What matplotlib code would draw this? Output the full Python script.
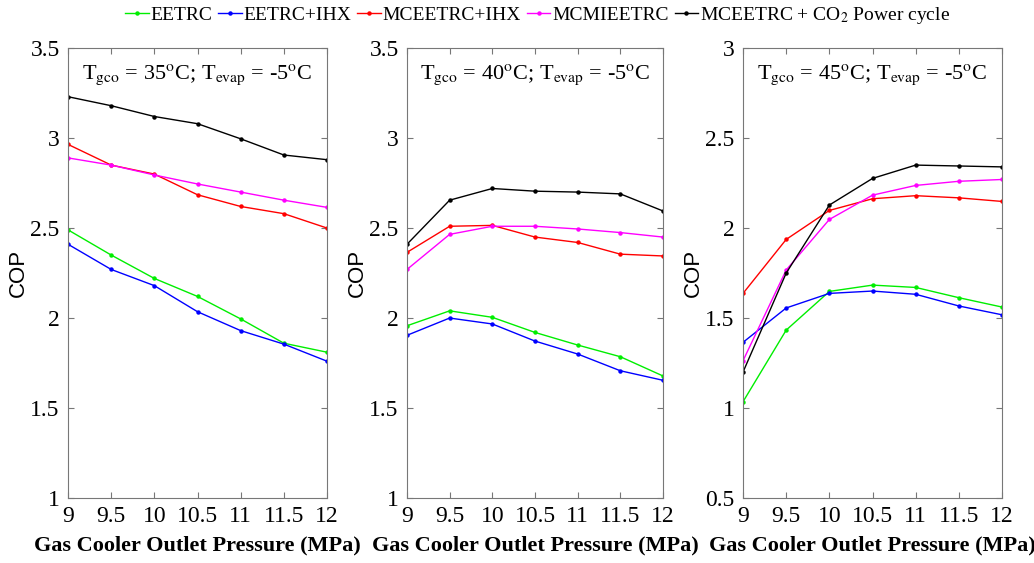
import numpy as np
import matplotlib
matplotlib.use("Agg")
import matplotlib.pyplot as plt

plt.rcParams['font.family'] = ['Liberation Serif', 'DejaVu Serif']
plt.rcParams['mathtext.fontset'] = 'stix'

pressure = [9, 9.5, 10, 10.5, 11, 11.5, 12]
series_names = ['EETRC', 'EETRC+IHX', 'MCEETRC+IHX', 'MCMIEETRC',
                r'MCEETRC + CO$_2$ Power cycle']
colors = ['#00ee00', '#0000ff', '#ff0000', '#ff00ff', '#000000']

# Tgco = 35 C
cop_35 = [
    [2.49, 2.35, 2.22, 2.12, 1.995, 1.86, 1.81],   # EETRC
    [2.41, 2.27, 2.18, 2.035, 1.93, 1.855, 1.76],  # EETRC+IHX
    [2.965, 2.85, 2.80, 2.685, 2.62, 2.58, 2.50],  # MCEETRC+IHX
    [2.89, 2.85, 2.795, 2.745, 2.70, 2.655, 2.615],  # MCMIEETRC
    [3.23, 3.18, 3.12, 3.08, 2.996, 2.906, 2.88],  # power cycle
]
# Tgco = 40 C
cop_40 = [
    [1.957, 2.04, 2.004, 1.92, 1.85, 1.785, 1.678],
    [1.904, 2.00, 1.967, 1.872, 1.80, 1.707, 1.654],
    [2.365, 2.51, 2.515, 2.45, 2.42, 2.355, 2.345],
    [2.27, 2.465, 2.51, 2.51, 2.495, 2.475, 2.45],
    [2.41, 2.655, 2.72, 2.705, 2.70, 2.69, 2.595],
]
# Tgco = 45 C
cop_45 = [
    [1.035, 1.433, 1.648, 1.683, 1.67, 1.613, 1.561],
    [1.365, 1.556, 1.637, 1.65, 1.632, 1.567, 1.518],
    [1.637, 1.937, 2.098, 2.163, 2.18, 2.168, 2.148],
    [1.263, 1.767, 2.048, 2.183, 2.237, 2.26, 2.27],
    [1.20, 1.75, 2.128, 2.276, 2.35, 2.345, 2.34],
]

panels = [
    (cop_35, '35', (1, 3.5), [1, 1.5, 2, 2.5, 3, 3.5], ['1', '1.5', '2', '2.5', '3', '3.5']),
    (cop_40, '40', (1, 3.5), [1, 1.5, 2, 2.5, 3, 3.5], ['1', '1.5', '2', '2.5', '3', '3.5']),
    (cop_45, '45', (0.5, 3), [0.5, 1, 1.5, 2, 2.5, 3], ['0.5', '1', '1.5', '2', '2.5', '3']),
]
lefts = [0.0658, 0.3936, 0.7186]
widths = [0.2505, 0.2476, 0.2505]

fig = plt.figure(figsize=(10.34, 5.63), dpi=100)
handles = []
for k, (data, tg, ylim, yt, ytl) in enumerate(panels):
    ax = fig.add_axes([lefts[k], 0.1155, widths[k], 0.799])
    for i in range(len(data)):
        h, = ax.plot(pressure, data[i], color=colors[i], lw=1.0,
                     marker='o', ms=2.2, label=series_names[i])
        if k == 0:
            handles.append(h)
    ax.set_xlim(9, 12)
    ax.set_ylim(*ylim)
    ax.set_xticks(pressure)
    ax.set_xticklabels(['9', '9.5', '10', '10.5', '11', '11.5', '12'])
    ax.set_yticks(yt)
    ax.set_yticklabels(ytl)
    ax.tick_params(direction='in', top=True, right=True, length=4,
                   color='#777777', labelsize=17, pad=6)
    for s in ax.spines.values():
        s.set_color('#777777')
    ax.set_xlabel('Gas Cooler Outlet Pressure (MPa)', fontsize=16,
                  fontweight='bold', labelpad=6)
    ax.set_ylabel('COP', fontsize=16, family='Liberation Sans', labelpad=1)
    ax.text(0.5, 0.94,
            r'T$_{\rm gco}$ = ' + tg + r'$^{\rm o}$C; T$_{\rm evap}$ = -5$^{\rm o}$C',
            transform=ax.transAxes, ha='center', va='center', fontsize=16)

fig.legend(handles=handles, loc='center', bbox_to_anchor=(0.52, 0.972),
           ncol=5, frameon=False, fontsize=14, handlelength=1.2,
           handletextpad=0.1, columnspacing=0.3, borderaxespad=0)

fig.savefig('out.png', dpi=100)
